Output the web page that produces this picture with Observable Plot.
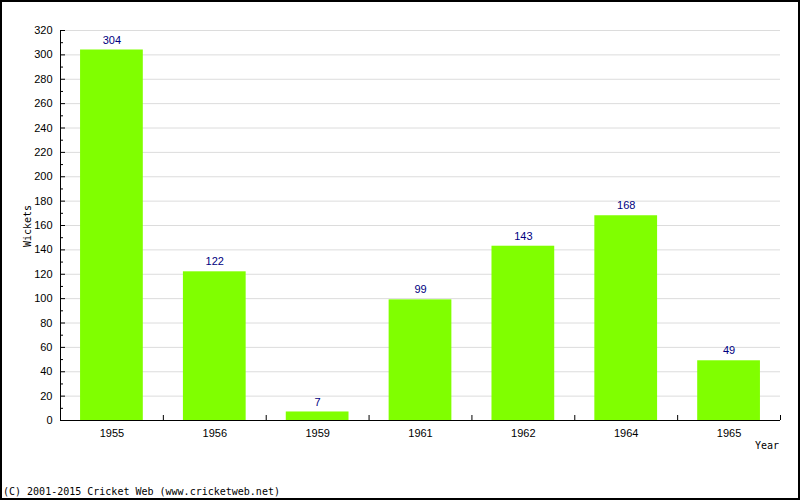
<!DOCTYPE html>
<html>
<head>
<meta charset="utf-8">
<script src="https://cdn.jsdelivr.net/npm/d3@7"></script>
<script src="https://cdn.jsdelivr.net/npm/@observablehq/plot@0.6"></script>
<style>
  html, body { margin: 0; padding: 0; background: #fff; }
  #chart svg { display: block; }
</style>
</head>
<body>
<div id="chart"></div>
<script>
const years = ["1955", "1956", "1959", "1961", "1962", "1964", "1965"];
const wickets = [304, 122, 7, 99, 143, 168, 49];
const yMajorTicks = [0, 20, 40, 60, 80, 100, 120, 140, 160, 180, 200, 220, 240, 260, 280, 300, 320];
const yMinorTicks = [10, 30, 50, 70, 90, 110, 130, 150, 170, 190, 210, 230, 250, 270, 290, 310];
const xTitle = "Year";
const yTitle = "Wickets";
const footer = "(C) 2001-2015 Cricket Web (www.cricketweb.net)";

const data = years.map((y, i) => ({year: y, value: wickets[i]}));

const W = 800, H = 500;
const mL = 60, mR = 20, mT = 30, mB = 80;
const plotW = W - mL - mR, plotH = H - mT - mB;
const step = plotW / years.length;

const chart = Plot.plot({
  width: W,
  height: H,
  marginLeft: mL,
  marginRight: mR,
  marginTop: mT,
  marginBottom: mB,
  style: {fontFamily: "Liberation Sans, sans-serif", fontSize: "11px", background: "#fff", color: "#000"},
  x: {domain: years, paddingInner: 0.39, paddingOuter: 0.195, round: false, label: null},
  y: {domain: [0, 320], label: null},
  marks: [
    Plot.gridY(yMajorTicks, {stroke: "#dcdcdc", strokeOpacity: 1}),
    Plot.barY(data, {x: "year", y: "value", fill: "#80ff00"}),
    Plot.text(data, {x: "year", y: "value", text: d => String(d.value), dy: -10, fill: "#000080", fontSize: 11}),
    Plot.axisY({ticks: yMajorTicks, tickSize: 0, tickPadding: 8, label: null}),
    Plot.axisX({tickSize: 0, tickPadding: 9, label: null}),
    Plot.ruleY(yMajorTicks, {y: d => d, stroke: "#000", insetRight: plotW - 5}),
    Plot.ruleY(yMinorTicks, {y: d => d, stroke: "#000", insetRight: plotW - 3}),
    Plot.ruleX(years, {x: d => d, dx: step / 2, stroke: "#000", insetTop: plotH - 5}),
    Plot.ruleX([years[0]], {x: d => d, dx: -step / 2, stroke: "#000"}),
    Plot.ruleY([0], {stroke: "#000"})
  ]
});

document.getElementById("chart").appendChild(chart);

const svg = d3.select(chart);
const mono = "DejaVu Sans Mono, monospace";
svg.append("text")
  .attr("x", 779).attr("y", 449)
  .attr("text-anchor", "end")
  .attr("font-family", mono).attr("font-size", 10)
  .attr("fill", "#000")
  .text(xTitle);
svg.append("text")
  .attr("transform", "translate(31,226) rotate(-90)")
  .attr("text-anchor", "middle")
  .attr("font-family", mono).attr("font-size", 10)
  .attr("fill", "#000")
  .text(yTitle);
svg.append("text")
  .attr("x", 3).attr("y", 495)
  .attr("text-anchor", "start")
  .attr("font-family", mono).attr("font-size", 10)
  .attr("fill", "#000")
  .text(footer);
svg.append("rect")
  .attr("x", 1).attr("y", 1).attr("width", W - 2).attr("height", H - 2)
  .attr("fill", "none").attr("stroke", "#000").attr("stroke-width", 2);
</script>
</body>
</html>
